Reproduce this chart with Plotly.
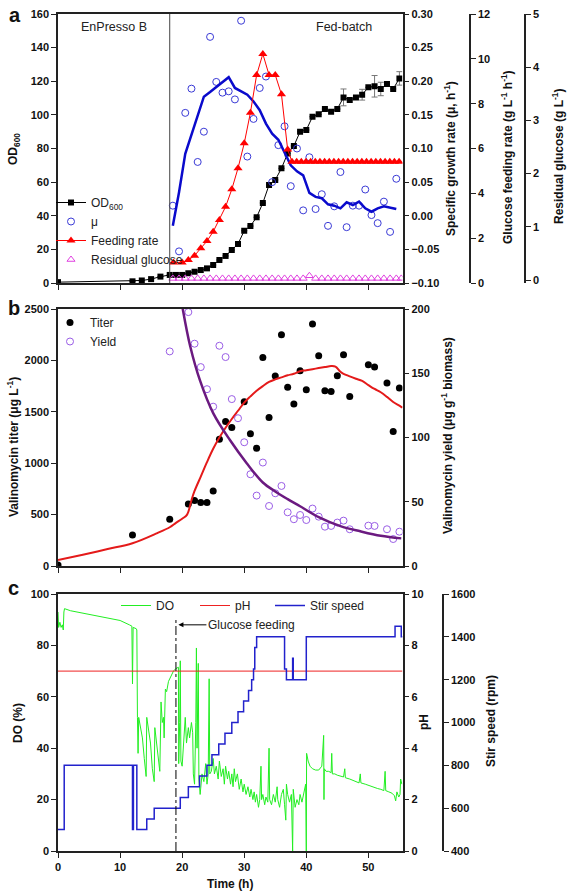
import plotly.graph_objects as go

# ---------------- Panel a data ----------------
od_t = [0, 12, 13.5, 15, 16.5, 18, 19, 20, 21, 22, 23, 24, 25, 26, 27, 28, 29, 30, 31, 32, 33,
        34, 35, 36, 37, 38, 39, 40, 41, 42, 43, 44, 45, 46, 47, 48, 49, 50, 51, 52, 53, 54, 55]
od = [0.5, 1.0, 1.5, 2.3, 3.8, 4.8, 4.8, 4.8, 5.8, 6.7, 7.7, 8.7, 10.7, 13.7, 16.1, 19.6, 23.2,
      31.1, 33.9, 39.1, 47.6, 58.3, 61.3, 68.2, 77.1, 81.5, 90.0, 91.0, 98.9, 100.3, 103.5, 101.9,
      103.5, 110.4, 108.8, 110.4, 112.0, 116.4, 117.0, 115.4, 118.4, 115.4, 121.7]
od_err = [None] * 33 + [5.0, None, None, 3.2, None, 6.4, 4.0, None, None, 4.0]

mu_t = [18.5, 19.5, 20.5, 21.5, 22.5, 23.5, 24.5, 25.5, 26.5, 27.5, 28.5, 29.5, 30.5, 31.5, 32.5,
        33.5, 34.5, 35.5, 36.5, 37.5, 38.5, 39.5, 40.5, 41.5, 42.5, 43.5, 44.5, 45.5, 46.5, 47.5,
        48.5, 49.5, 50.5, 51.5, 52.5, 53.5, 54.5]
mu = [0.015, -0.053, 0.153, 0.189, 0.080, 0.125, 0.266, 0.199, 0.183, 0.185, 0.173, 0.290, 0.088,
      0.144, 0.190, 0.207, 0.050, 0.105, 0.133, 0.044, 0.100, 0.008, 0.087, 0.010, 0.032, -0.015,
      0.014, 0.065, -0.017, 0.015, 0.015, 0.039, 0.001, -0.011, 0.021, -0.024, 0.055]
mu_fit = [-0.015, 0.035, 0.092, 0.120, 0.147, 0.177, 0.184, 0.191, 0.199, 0.206, 0.190, 0.185,
          0.180, 0.170, 0.157, 0.137, 0.122, 0.113, 0.095, 0.075, 0.066, 0.060, 0.034, 0.028, 0.026,
          0.017, 0.015, 0.011, 0.020, 0.016, 0.021, 0.011, 0.006, 0.011, 0.014, 0.012, 0.010]

feed_t = [18.6, 20, 21, 22, 23, 24, 25, 26, 27, 28, 29, 30, 31, 32, 33, 34, 35, 36, 37,
          37.7, 38.45, 39.2, 39.95, 40.7, 41.45, 42.2, 42.95, 43.7, 44.45, 45.2, 45.95, 46.7,
          47.45, 48.2, 48.95, 49.7, 50.45, 51.2, 51.95, 52.7, 53.45, 54.2, 54.95]
feed = [0.92, 0.92, 1.03, 1.22, 1.55, 1.87, 2.29, 2.81, 3.40, 4.18, 5.12, 6.23, 7.60, 9.28, 10.22,
        9.28, 9.28, 8.42, 5.95,
        5.41, 5.41, 5.41, 5.41, 5.41, 5.41, 5.41, 5.41, 5.41, 5.41, 5.41, 5.41, 5.41, 5.41, 5.41,
        5.41, 5.41, 5.41, 5.41, 5.41, 5.41, 5.41, 5.41, 5.41]

res_t = [18.5, 19.5, 20.5, 21.5, 22.5, 23.5, 24.5, 25.5, 26.5, 27.5, 28.5, 29.5, 30.5, 31.5, 32.5,
         33.5, 34.5, 35.5, 36.5, 37.5, 38.5, 39.5, 40.5, 41.5, 42.5, 43.5, 44.5, 45.5, 46.5, 47.5,
         48.5, 49.5, 50.5, 51.5, 52.5, 53.5, 54.5, 55.3]
res = [0.03, 0.03, 0.03, 0.03, 0.03, 0.03, 0.03, 0.03, 0.03, 0.03, 0.03, 0.03, 0.03, 0.03, 0.03,
       0.03, 0.03, 0.03, 0.03, 0.03, 0.03, 0.03, 0.08, 0.03, 0.03, 0.03, 0.03, 0.03, 0.03, 0.03,
       0.03, 0.03, 0.03, 0.03, 0.03, 0.03, 0.03, 0.03]

# ---------------- Panel b data ----------------
titer_t = [0, 12, 18, 21, 22, 23, 24, 25, 26, 27, 28, 30, 31, 32, 33, 34, 35, 36, 37, 38, 39, 40,
           41, 42, 43, 44, 45, 46, 47, 50, 51, 53, 54, 55]
titer = [10, 302, 455, 604, 636, 617, 617, 730, 1234, 1406, 1347, 1597, 1286, 1146, 2029, 1445,
         1848, 2250, 1740, 1575, 1900, 1714, 2354, 2046, 1705, 1698, 1851, 2055, 1649, 1958, 1935,
         1779, 1308, 1731]
yield_t = [18, 21, 22, 23, 24, 25, 26, 27, 28, 29, 30, 31, 32, 33, 34, 35, 36, 37, 38, 39, 40, 41,
           42, 43, 44, 45, 46, 47, 50, 51, 53, 54, 55]
yields = [167, 197.6, 173, 154.8, 137.6, 124, 171.4, 162.6, 129.9, 115, 96.3, 71.4, 54.8, 80.5,
          46.7, 56.6, 62.3, 41.8, 36.4, 39.7, 35.8, 44.7, 38.4, 30.6, 31.2, 33.8, 35.3, 28.6, 31.4,
          31.2, 28.6, 21, 26.7]
tfit_t = [0, 4, 8, 12, 16, 18, 19, 20, 20.8, 21.5, 22, 23, 24, 25, 26, 27, 28, 29, 30, 31, 32, 33,
          34, 35, 36, 37, 38, 39, 40, 41, 42, 43, 44, 44.7, 45.5, 46, 47, 48, 49, 50, 51, 52, 53,
          54, 55, 55.5]
tfit = [58, 110, 165, 221, 320, 377, 420, 460, 500, 640, 730, 870, 1010, 1140, 1250, 1345, 1430,
        1510, 1590, 1650, 1705, 1750, 1790, 1815, 1835, 1855, 1870, 1895, 1905, 1915, 1925, 1935,
        1945, 1940, 1890, 1870, 1845, 1822, 1800, 1760, 1722, 1690, 1645, 1595, 1560, 1540]
yfit_t = [19.6, 20.1, 21.3, 22.9, 25, 27.7, 30.4, 33, 35, 37, 39, 42, 45.5, 48.7, 52, 55.3]
yfit = [215, 200, 171, 144, 119, 98, 80, 65, 58, 52, 46.5, 38, 31, 27, 23.5, 21.5]

# ---------------- Panel c data ----------------
do_t = [0, 0.1, 0.3, 0.5, 0.7, 0.85, 0.95, 1.05, 2, 4, 6, 8, 10, 11.5, 11.9, 12.0, 12.1, 12.6,
        12.7, 12.8, 12.9, 13.0, 13.3, 13.6, 13.9, 14.2, 14.3, 14.6, 14.9, 15.2, 15.5, 15.6, 15.9,
        16.1, 16.4, 16.6, 16.8, 17.0, 17.1, 17.3, 17.5, 17.8, 18.2, 18.6, 19.0, 19.4, 19.45, 19.6,
        19.7, 19.8, 20.0, 20.3, 20.5, 20.7, 21.0, 21.2, 21.5, 21.7, 21.8, 22.0, 22.2, 22.3, 22.4,
        22.6, 22.7, 22.9, 23.2, 23.5, 23.8, 24.0, 24.2, 24.35, 24.45, 24.7, 25.0, 25.2, 25.5,
        25.8, 26.0, 26.3, 26.6, 26.8, 27.0, 27.3, 27.5, 27.8, 28.0, 28.2, 28.4, 28.6, 28.9, 29.2,
        29.5, 29.8, 30.0, 30.3, 30.6, 30.9, 31.1, 31.4, 31.6, 31.8, 32.0, 32.3, 32.5, 32.7, 32.8,
        33.0, 33.3, 33.5, 33.8, 34.0, 34.1, 34.4, 34.7, 35.0, 35.3, 35.4, 35.7, 36.0, 36.3, 36.5,
        36.7, 36.8, 37.0, 37.3, 37.6, 37.8, 37.9, 38.2, 38.5, 38.8, 39.0, 39.3, 39.6, 39.9, 40.0,
        40.05, 40.3, 40.6, 41.0, 41.5, 42.0, 42.5, 42.8, 42.85, 42.9, 43.2, 43.6, 44.0, 44.1, 44.2,
        44.6, 45.0, 45.5, 46.0, 46.2, 46.3, 47.0, 47.5, 48.0, 48.5, 48.7, 48.8, 49.5, 50.0, 50.5,
        51.0, 51.5, 52.0, 52.5, 52.7, 52.8, 53.3, 53.8, 54.2, 54.4, 54.6, 54.9, 55.1, 55.2, 55.4]
do = [93, 87, 89, 87, 88, 86, 93, 94.3, 93.5, 92.5, 91.5, 90.6, 89.7, 88, 87.5, 65, 87, 86.5,
      86, 52, 38, 52, 47, 44, 36, 29, 52, 47, 42, 32, 27, 48, 42,
      36, 31, 58, 50, 52, 44, 63, 62, 66, 68, 70, 71, 71.5, 34, 50,
      74, 35, 33, 46, 52, 42, 48, 44, 50, 46, 30, 26, 50, 79, 40,
      73, 28, 22, 30, 27, 34, 26, 30, 67, 30, 31, 36, 30, 33,
      28, 35, 29, 32, 26, 33, 28, 31, 26, 30, 25, 32, 27, 30, 24,
      28, 23, 26, 22, 25, 21, 24, 20, 23, 19, 22, 17, 20, 33, 20,
      22, 18, 21, 19, 40, 20, 18, 22, 19, 25, 20, 17, 22, 24, 18,
      12, 26, 22, 19, 22, 0, 24, 17, 20, 18, 22, 19, 23, 26, 0,
      38, 35, 33, 32, 31.5, 31.5, 33, 45, 20, 32, 31, 31, 30.5, 38, 30,
      30, 29.5, 29, 28.8, 32, 28.5, 28, 27.5, 27, 26.5, 30, 26.5, 26, 25.5, 25,
      24.8, 24.3, 24, 23.5, 31, 23.5, 23, 22.5, 21.5, 19.5, 23, 21, 22, 28, 26]
ph_t = [0, 10, 20, 30, 40, 50, 55.5]
ph = [7.0, 7.0, 7.0, 7.0, 7.0, 7.0, 7.0]
stir_t = [0, 1.0, 12.0, 12.15, 12.7, 14.3, 15.5, 19.7, 21.0, 22.8, 24.0, 24.8, 25.9, 26.9, 28.0,
          29.0, 29.9, 30.7, 31.2, 31.5, 31.7, 32.0, 36.5, 36.8, 37.8, 37.9, 40.0, 54.3, 55.3, 55.5]
stir = [500, 800, 500, 800, 500, 550, 600, 650, 700, 750, 800, 850, 900, 950, 1000,
        1050, 1100, 1150, 1200, 1250, 1350, 1400, 1250, 1200, 1300, 1200, 1400, 1450, 1400, 1400]

# ---------------- layout helpers ----------------
FONT = "Liberation Sans, Arial, sans-serif"
W, H = 568, 892


def px(x):
    return x / W


def py(y):
    return 1 - y / H


XD = [px(58), px(402.5)]
DA = [py(283), py(14)]
DB = [py(566), py(309)]
DC = [py(851), py(594)]

common = dict(showline=True, linecolor='#222', linewidth=1.5, ticks='outside', ticklen=5,
              tickwidth=1.2, tickcolor='#222', showgrid=False, zeroline=False, automargin=False,
              tickfont=dict(family=FONT, size=11, color='#111', weight='bold'))

fig = go.Figure()

# Panel a
fig.add_trace(go.Scatter(x=od_t, y=od, mode='lines+markers', name='OD<sub>600</sub>',
                         line=dict(color='black', width=1),
                         marker=dict(symbol='square', size=6, color='black'),
                         error_y=dict(type='data', array=od_err, color='#777', thickness=1, width=3),
                         xaxis='x', yaxis='y', legend='legend'))
fig.add_trace(go.Scatter(x=mu_t, y=mu, mode='markers', name='μ',
                         marker=dict(symbol='circle-open', size=7, color='#3a3ad6', line=dict(width=1)),
                         xaxis='x', yaxis='y2', legend='legend'))
fig.add_trace(go.Scatter(x=feed_t, y=feed, mode='lines+markers', name='Feeding rate',
                         line=dict(color='#ff0000', width=1),
                         marker=dict(symbol='triangle-up', size=8, color='#ff0000'),
                         xaxis='x', yaxis='y3', legend='legend'))
fig.add_trace(go.Scatter(x=res_t, y=res, mode='markers', name='Residual glucose',
                         marker=dict(symbol='triangle-up-open', size=7, color='#e040e0', line=dict(width=1)),
                         xaxis='x', yaxis='y4', legend='legend'))
fig.add_trace(go.Scatter(x=mu_t, y=mu_fit, mode='lines', line=dict(color='#0a0acc', width=2.5),
                         showlegend=False, xaxis='x', yaxis='y2'))

# Panel b
fig.add_trace(go.Scatter(x=titer_t, y=titer, mode='markers', name='Titer',
                         marker=dict(size=7, color='black'), xaxis='x2', yaxis='y5', legend='legend2'))
fig.add_trace(go.Scatter(x=yield_t, y=yields, mode='markers', name='Yield',
                         marker=dict(symbol='circle-open', size=7, color='#9a5ee6', line=dict(width=1)),
                         xaxis='x2', yaxis='y6', legend='legend2'))
fig.add_trace(go.Scatter(x=tfit_t, y=tfit, mode='lines', line=dict(color='#e41a1a', width=2, shape='spline'),
                         showlegend=False, xaxis='x2', yaxis='y5'))
fig.add_trace(go.Scatter(x=yfit_t, y=yfit, mode='lines', line=dict(color='#6b1a80', width=2.5, shape='spline'),
                         showlegend=False, xaxis='x2', yaxis='y6'))

# Panel c
fig.add_trace(go.Scatter(x=do_t, y=do, mode='lines', name='DO', line=dict(color='#22ee22', width=1),
                         xaxis='x3', yaxis='y7', legend='legend3'))
fig.add_trace(go.Scatter(x=ph_t, y=ph, mode='lines', name='pH', line=dict(color='#ee2222', width=1),
                         xaxis='x3', yaxis='y8', legend='legend4'))
fig.add_trace(go.Scatter(x=stir_t, y=stir, mode='lines', name='Stir speed',
                         line=dict(color='#2222cc', width=1.5, shape='hv'),
                         xaxis='x3', yaxis='y9', legend='legend5'))

xt = [0, 10, 20, 30, 40, 50]
leg_font = dict(family=FONT, size=12, color='#222')


def leg(x, y):
    return dict(x=px(x), y=py(y), xanchor='left', yanchor='top', bgcolor='rgba(0,0,0,0)',
                font=leg_font, tracegroupgap=0, itemwidth=30)


fig.update_layout(
    width=W, height=H, autosize=False,
    margin=dict(l=0, r=0, t=0, b=0, pad=0, autoexpand=False),
    paper_bgcolor='white', plot_bgcolor='white',
    font=dict(family=FONT, color='#111'),
    xaxis=dict(domain=XD, range=[0, 55.5], anchor='y', tickvals=xt, showticklabels=False, mirror=True, **common),
    yaxis=dict(domain=DA, range=[0, 160], dtick=20, anchor='x', **common),
    yaxis2=dict(overlaying='y', side='right', anchor='x', range=[-0.1, 0.3], dtick=0.05, tickformat='.2f', **common),
    yaxis3=dict(overlaying='y', side='right', anchor='free', position=px(470), range=[0, 12], dtick=2, **common),
    yaxis4=dict(overlaying='y', side='right', anchor='free', position=px(525), range=[-0.056, 5],
                tickvals=[0, 1, 2, 3, 4, 5], **common),
    xaxis2=dict(domain=XD, range=[0, 55.5], anchor='y5', tickvals=xt, showticklabels=False, mirror=True, **common),
    yaxis5=dict(domain=DB, range=[0, 2500], dtick=500, anchor='x2', **common),
    yaxis6=dict(overlaying='y5', side='right', anchor='x2', range=[0, 200], dtick=50, **common),
    xaxis3=dict(domain=XD, range=[0, 55.5], anchor='y7', tickvals=xt, mirror=True, **common),
    yaxis7=dict(domain=DC, range=[0, 100], dtick=20, anchor='x3', **common),
    yaxis8=dict(overlaying='y7', side='right', anchor='x3', range=[0, 10], dtick=2, **common),
    yaxis9=dict(overlaying='y7', side='right', anchor='free', position=px(443), range=[400, 1600], dtick=200, **common),
    legend=leg(51, 188),
    legend2=leg(50, 308),
    legend3=leg(116, 591),
    legend4=leg(195, 591),
    legend5=leg(270, 591),
)

# reference lines
fig.add_shape(type='line', xref='x', yref='y', x0=18, x1=18, y0=0, y1=160, line=dict(color='#444', width=1))
fig.add_shape(type='line', xref='x3', yref='y7', x0=19, x1=19, y0=0, y1=90,
              line=dict(color='black', width=1, dash='dashdot'))

ann = []


def title(text, x, y, angle=-90, size=12):
    ann.append(dict(text=text, x=px(x), y=py(y), xref='paper', yref='paper', showarrow=False,
                    textangle=angle, xanchor='center', yanchor='middle',
                    font=dict(family=FONT, size=size, color='#111', weight='bold')))


title('OD<sub>600</sub>', 14, 149)
title('Specific growth rate (μ, h<sup>-1</sup>)', 450, 159)
title('Glucose feeding rate (g L<sup>-1</sup> h<sup>-1</sup>)', 507, 157)
title('Residual glucose (g L<sup>-1</sup>)', 558, 157)
title('Valinomycin titer (μg L<sup>-1</sup>)', 13, 447)
title('Valinomycin yield (μg g<sup>-1</sup> biomass)', 447, 436)
title('DO (%)', 18, 723)
title('pH', 424, 722)
title('Stir speed (rpm)', 491, 721)
title('Time (h)', 230, 884, angle=0)
title('a', 15, 15, angle=0, size=20)
title('b', 14, 308, angle=0, size=20)
title('c', 14, 588, angle=0, size=20)

for txt, x in [('EnPresso B', 114), ('Fed-batch', 344)]:
    ann.append(dict(text=txt, x=px(x), y=py(27), xref='paper', yref='paper', showarrow=False,
                    xanchor='center', yanchor='middle', font=dict(family=FONT, size=12.5, color='#222')))

ann.append(dict(text='Glucose feeding', x=19.4, y=88, xref='x3', yref='y7', showarrow=True,
                arrowhead=2, arrowsize=1, arrowwidth=1, arrowcolor='black', ax=73, ay=0,
                font=dict(family=FONT, size=12, color='#222')))

fig.update_layout(annotations=ann)

fig.write_html("out.html", config={'displayModeBar': False},
               post_script="document.body.style.margin='0';document.body.style.overflow='hidden';")
